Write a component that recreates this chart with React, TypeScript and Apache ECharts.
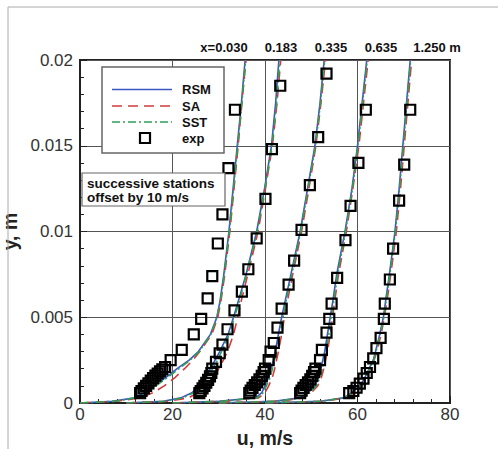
import React, { useEffect, useRef } from "react";
import * as echarts from "echarts";

// wall-normal distance levels (m) at which model profiles are read
const curveY = [0, 0.0001, 0.0003, 0.0006, 0.001, 0.0015, 0.002, 0.0025, 0.003, 0.004, 0.005, 0.006, 0.0075, 0.01, 0.0125, 0.015, 0.0175, 0.02];

// u (m/s, with 10 m/s station offset) for each model and station
const rsm030 = [0, 7, 11.8, 13.8, 16.0, 18.6, 21.0, 23.6, 25.6, 28.2, 29.6, 30.3, 31.1, 32.2, 33.1, 34.0, 34.9, 35.7];
const sa030 = [0, 8, 13.0, 15.8, 18.2, 20.6, 22.6, 24.4, 25.9, 28.5, 29.8, 30.5, 31.3, 32.4, 33.3, 34.2, 35.0, 35.9];
const sst030 = [0, 7.5, 12.0, 14.2, 16.4, 19.0, 21.4, 23.8, 25.8, 28.3, 29.6, 30.4, 31.2, 32.3, 33.2, 34.1, 35.0, 35.8];

const rsm183 = [10, 18, 21.8, 24.2, 25.7, 27.0, 28.2, 29.2, 30.2, 32.0, 33.2, 34.3, 35.9, 38.2, 39.9, 41.4, 42.3, 43.0];
const sa183 = [10, 19, 23.5, 25.4, 27.0, 28.8, 30.0, 31.0, 31.9, 33.2, 34.1, 34.9, 36.3, 38.5, 40.1, 41.6, 42.6, 43.4];
const sst183 = [10, 18.5, 22.2, 24.6, 26.1, 27.5, 28.7, 29.7, 30.6, 32.3, 33.4, 34.5, 36.0, 38.3, 40.0, 41.5, 42.5, 43.2];

const rsm335 = [20, 30, 38.0, 39.3, 40.0, 40.8, 41.3, 41.8, 42.2, 42.9, 43.6, 44.4, 45.6, 47.6, 49.2, 50.8, 51.9, 52.8];
const sa335 = [20, 31, 38.6, 40.0, 40.8, 41.6, 42.1, 42.5, 42.9, 43.6, 44.2, 44.9, 46.0, 47.9, 49.5, 51.0, 52.1, 53.1];
const sst335 = [20, 30.5, 38.3, 39.6, 40.3, 41.1, 41.6, 42.1, 42.5, 43.2, 43.9, 44.6, 45.8, 47.7, 49.3, 50.9, 52.0, 52.9];

const rsm635 = [30, 42, 47.5, 49.3, 50.8, 51.6, 52.1, 52.5, 52.9, 53.5, 54.1, 54.7, 55.5, 57.3, 58.8, 60.0, 61.0, 62.0];
const sa635 = [30, 43, 48.3, 50.0, 51.4, 52.2, 52.7, 53.1, 53.5, 54.1, 54.6, 55.1, 55.9, 57.6, 59.0, 60.3, 61.3, 62.3];
const sst635 = [30, 42.5, 47.9, 49.7, 51.1, 51.9, 52.4, 52.8, 53.2, 53.8, 54.3, 54.9, 55.7, 57.4, 58.9, 60.1, 61.1, 62.1];

const rsm1250 = [40, 52, 57.0, 58.8, 60.6, 61.6, 62.5, 63.4, 63.9, 64.8, 65.6, 66.1, 66.9, 68.1, 69.0, 69.8, 70.6, 71.4];
const sa1250 = [40, 52.5, 57.5, 59.3, 61.0, 62.0, 62.8, 63.6, 64.2, 65.1, 65.8, 66.4, 67.2, 68.4, 69.3, 70.1, 70.9, 71.7];
const sst1250 = [40, 52.2, 57.2, 59.0, 60.8, 61.8, 62.6, 63.5, 64.0, 64.9, 65.7, 66.2, 67.0, 68.2, 69.1, 69.9, 70.7, 71.5];

// experimental points [u, y]
const exp030 = [[13.0, 0.00058], [13.3, 0.0007], [13.8, 0.00085], [14.3, 0.001], [14.8, 0.00115], [15.3, 0.0013], [15.8, 0.00145], [16.3, 0.0016], [16.8, 0.00172], [17.3, 0.00184], [17.8, 0.00196], [18.4, 0.0021], [19.6, 0.0025], [22.0, 0.0031], [24.6, 0.004], [26.2, 0.0049], [27.6, 0.0061], [28.6, 0.0074], [29.8, 0.0093], [30.8, 0.011], [32.1, 0.0137], [33.5, 0.0171]];
const exp183 = [[25.8, 0.00058], [26.1, 0.0007], [26.5, 0.00085], [26.9, 0.001], [27.3, 0.00118], [27.7, 0.00135], [28.1, 0.00155], [28.4, 0.00175], [28.6, 0.002], [29.4, 0.0024], [30.2, 0.0029], [30.8, 0.0034], [31.9, 0.0043], [33.4, 0.0054], [35.0, 0.0065], [36.4, 0.0078], [38.2, 0.0096], [40.1, 0.0119], [41.5, 0.0148], [43.3, 0.0185]];
const exp335 = [[36.6, 0.00058], [36.9, 0.00072], [37.3, 0.00088], [37.8, 0.00105], [38.3, 0.0012], [38.8, 0.00138], [39.3, 0.00158], [39.7, 0.0018], [40.0, 0.002], [40.8, 0.0025], [41.2, 0.003], [41.9, 0.0035], [42.7, 0.0044], [43.6, 0.0055], [45.1, 0.0069], [46.3, 0.0083], [47.9, 0.0101], [49.7, 0.0127], [51.5, 0.0155], [53.3, 0.0192]];
const exp635 = [[47.6, 0.00058], [47.9, 0.00072], [48.3, 0.00088], [48.8, 0.00105], [49.3, 0.0012], [49.8, 0.00138], [50.2, 0.00158], [50.6, 0.0018], [50.9, 0.002], [51.9, 0.0025], [52.3, 0.0031], [53.3, 0.0041], [53.9, 0.0049], [54.4, 0.0058], [55.6, 0.0073], [57.4, 0.0095], [58.5, 0.0115], [60.2, 0.014], [61.8, 0.0171]];
const exp1250 = [[58.2, 0.00058], [59.1, 0.0007], [59.8, 0.00089], [60.5, 0.00113], [61.3, 0.00142], [62.0, 0.00175], [62.7, 0.0021], [63.4, 0.0026], [64.1, 0.0032], [65.0, 0.0038], [65.7, 0.0049], [65.9, 0.0058], [67.0, 0.0072], [67.7, 0.009], [69.0, 0.0118], [70.1, 0.0139], [71.4, 0.0171]];

const stationLabels = ["x=0.030", "0.183", "0.335", "0.635", "1.250 m"];
const stationLabelX = [224, 281, 331, 381, 437];
const legendNames = ["RSM", "SA", "SST", "exp"];
const noteLines = ["successive stations", "offset by 10 m/s"];

const FONT = "'Liberation Sans', Arial, Helvetica, sans-serif";
const C_RSM = "#3a57c4";
const C_SA = "#d43a3a";
const C_SST = "#2f9e57";
const DASH_SA = [10, 6];
const DASH_SST = [8, 3, 2, 3];

export default function App() {
  const ref = useRef<HTMLDivElement>(null);
  useEffect(() => {
    if (!ref.current) return;
    const chart = echarts.init(ref.current, undefined, { renderer: "svg" });

    const toPts = (u: number[]) => u.map((v, k) => [v, curveY[k]]);
    const lineSeries = (name: string, arrs: number[][], color: string, type: any) =>
      arrs.map((u) => ({
        type: "line",
        name,
        data: toPts(u),
        symbol: "none",
        showSymbol: false,
        silent: true,
        lineStyle: { color, width: 1.6, type },
        z: 3,
      }));

    const series: any[] = [
      ...lineSeries("RSM", [rsm030, rsm183, rsm335, rsm635, rsm1250], C_RSM, "solid"),
      ...lineSeries("SA", [sa030, sa183, sa335, sa635, sa1250], C_SA, DASH_SA),
      ...lineSeries("SST", [sst030, sst183, sst335, sst635, sst1250], C_SST, DASH_SST),
      {
        type: "scatter",
        name: "exp",
        data: [...exp030, ...exp183, ...exp335, ...exp635, ...exp1250],
        symbol: "rect",
        symbolSize: 10,
        silent: true,
        itemStyle: { color: "rgba(255,255,255,0)", borderColor: "#000", borderWidth: 2.2, opacity: 1 },
        z: 5,
      },
    ];

    const txt = (x: number, y: number, text: string, font: string, align = "left") => ({
      type: "text",
      x,
      y,
      z: 100,
      style: {
        text,
        font,
        fill: "#111",
        align,
        textAlign: align,
        verticalAlign: "middle",
        textVerticalAlign: "middle",
      },
    });

    const legendY = [89.5, 106, 122, 138];
    const graphic: any[] = [
      { type: "line", z: 100, shape: { x1: 8, y1: 7, x2: 498, y2: 7 }, style: { stroke: "#aaa", lineWidth: 1 } },
      { type: "line", z: 100, shape: { x1: 8, y1: 7, x2: 8, y2: 449 }, style: { stroke: "#aaa", lineWidth: 1 } },
      ...stationLabels.map((s, i) => txt(stationLabelX[i], 47, s, `bold 13px ${FONT}`, "center")),
      // legend box
      { type: "rect", z: 100, shape: { x: 102, y: 67, width: 122, height: 86 }, style: { fill: "#fff", stroke: "#666", lineWidth: 1.5 } },
      { type: "line", z: 101, shape: { x1: 112, y1: legendY[0], x2: 172, y2: legendY[0] }, style: { stroke: C_RSM, lineWidth: 1.6 } },
      { type: "line", z: 101, shape: { x1: 112, y1: legendY[1], x2: 172, y2: legendY[1] }, style: { stroke: C_SA, lineWidth: 1.6, lineDash: DASH_SA } },
      { type: "line", z: 101, shape: { x1: 112, y1: legendY[2], x2: 172, y2: legendY[2] }, style: { stroke: C_SST, lineWidth: 1.6, lineDash: DASH_SST } },
      { type: "rect", z: 101, shape: { x: 140, y: legendY[3] - 5, width: 10, height: 10 }, style: { fill: "none", stroke: "#000", lineWidth: 2.2 } },
      ...legendNames.map((s, i) => txt(182, legendY[i], s, `bold 13px ${FONT}`)),
      // note box
      { type: "rect", z: 100, shape: { x: 82, y: 173, width: 143, height: 33 }, style: { fill: "#fff", stroke: "#666", lineWidth: 1.2 } },
      ...noteLines.map((s, i) => txt(87, 183.5 + i * 14, s, `bold 13.5px ${FONT}`)),
    ];

    const axisCommon = {
      type: "value",
      axisLine: { show: true, onZero: false, lineStyle: { color: "#222", width: 2 } },
      axisTick: { show: true, inside: true, length: 7, lineStyle: { color: "#222", width: 1 } },
      minorTick: { show: true, splitNumber: 5, length: 4, lineStyle: { color: "#222", width: 1 } },
      splitLine: { show: true, lineStyle: { color: "#555", width: 1 } },
      minorSplitLine: { show: false },
      nameLocation: "middle",
      nameTextStyle: { fontSize: 19.5, fontWeight: "bold", color: "#222", fontFamily: FONT },
    };

    chart.setOption({
      animation: false,
      backgroundColor: "#fff",
      grid: {
        left: 80,
        right: 48,
        top: 60,
        bottom: 46,
        show: true,
        borderColor: "#222",
        borderWidth: 2,
        backgroundColor: "transparent",
        containLabel: false,
        outerBoundsMode: "none",
      },
      xAxis: {
        ...axisCommon,
        min: 0,
        max: 80,
        interval: 20,
        name: "u, m/s",
        nameGap: 17,
        axisLabel: { fontSize: 17, color: "#333", margin: 3, fontFamily: FONT },
      },
      yAxis: {
        ...axisCommon,
        min: 0,
        max: 0.02,
        interval: 0.005,
        name: "y, m",
        nameGap: 54,
        axisLabel: { fontSize: 17, color: "#333", margin: 7, fontFamily: FONT },
      },
      series,
      graphic,
    });
    return () => chart.dispose();
  }, []);
  return (
    <div
      ref={ref}
      style={{ position: "fixed", left: 0, top: 0, width: 498, height: 449, background: "#fff" }}
    />
  );
}
